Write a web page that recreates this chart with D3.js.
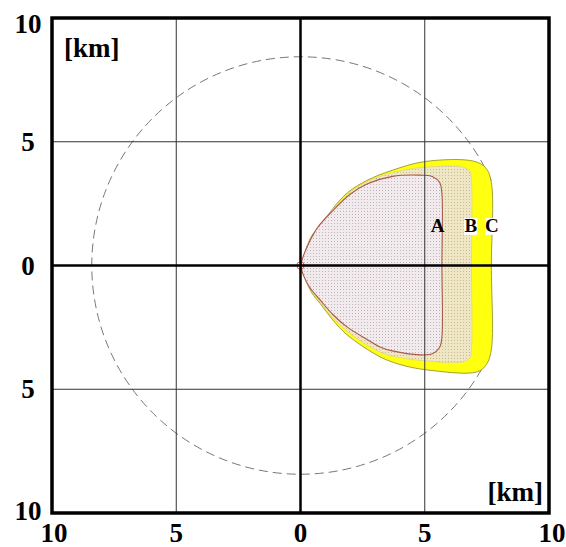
<!DOCTYPE html>
<html>
<head>
<meta charset="utf-8">
<script src="https://cdn.jsdelivr.net/npm/d3@7"></script>
<style>
  html, body { margin: 0; padding: 0; background: #fff; }
  svg { display: block; }
  .lbl { font-family: "Liberation Serif", "Times New Roman", serif; font-weight: bold; fill: #000; }
</style>
</head>
<body>
<svg id="chart" width="566" height="547"></svg>
<script>
// footprint zones A / B / C in km, y up, plotted on a ±10 km grid
const TICKS = [-10, -5, 0, 5, 10];
const TICK_LABELS = ["10", "5", "0", "5", "10"];
const RING_KM = 8.4;
// ring is hidden where it runs behind zone C: gap between these bearings (deg, from east, ccw)
const RING_GAP = [24, -30];
const ORIGIN_LOOP_KM = 0.15;

const ZONE_C = [[0,0],[0.15,0.45],[0.45,1.2],[0.8,1.6],[1.3,2.3],[1.9,2.95],[2.7,3.45],[3.7,3.85],[5.0,4.2],
  [6.95,4.22],[7.45,3.95],[7.68,3.35],[7.68,0],[7.68,-3.4],[7.48,-4.0],[7.1,-4.3],[5.1,-4.22],[4.0,-4.0],
  [3.2,-3.69],[1.87,-2.8],[1.3,-2.2],[0.8,-1.55],[0.45,-1.1],[0.15,-0.45],[0,0]];
const ZONE_B = [[0,0],[0.14,0.43],[0.42,1.1],[0.75,1.6],[1.3,2.27],[1.95,2.92],[2.7,3.4],[3.7,3.75],[5.0,3.97],
  [6.55,3.97],[6.82,3.8],[6.88,3.45],[6.88,0],[6.88,-3.4],[6.82,-3.72],[6.55,-3.89],[5.0,-3.85],[4.0,-3.72],
  [3.2,-3.5],[1.87,-2.65],[1.3,-2.1],[0.78,-1.47],[0.42,-1.0],[0.14,-0.43],[0,0]];
const ZONE_A = [[0,0],[0.12,0.4],[0.38,1.0],[0.7,1.55],[1.3,2.22],[2.0,2.88],[2.7,3.3],[3.7,3.6],[4.8,3.65],
  [5.3,3.6],[5.6,3.35],[5.69,2.9],[5.69,0],[5.69,-2.9],[5.6,-3.3],[5.3,-3.57],[4.8,-3.61],[3.7,-3.45],
  [3.2,-3.29],[2.7,-3.0],[1.87,-2.48],[1.3,-1.98],[0.79,-1.39],[0.38,-0.9],[0.12,-0.4],[0,0]];
const ZONE_LABELS = [
  { name: "A", x: 5.52, y: 1.6, box: false },
  { name: "B", x: 6.85, y: 1.6, box: true },
  { name: "C", x: 7.7,  y: 1.6, box: true }
];

const svg = d3.select("#chart");
const x = d3.scaleLinear().domain([-10, 10]).range([52, 549]);
const y = d3.scaleLinear().domain([-10, 10]).range([513, 18]);

const defs = svg.append("defs");
function dots(id, base, dot) {
  const p = defs.append("pattern").attr("id", id)
    .attr("patternUnits", "userSpaceOnUse").attr("width", 3).attr("height", 3);
  p.append("rect").attr("width", 3).attr("height", 3).attr("fill", base);
  p.append("rect").attr("x", 1).attr("y", 1).attr("width", 1).attr("height", 1).attr("fill", dot);
}
dots("dotA", "#f1ebed", "#c2b3ba");
dots("dotB", "#efe6c6", "#c8b98e");

// dashed range ring, open arc round the west side (screen angles: y down, so negate)
const ringR = x(RING_KM) - x(0);
const ring = d3.path();
const a0 = -RING_GAP[0] * Math.PI / 180;          // upper end
const a1 = -RING_GAP[1] * Math.PI / 180;          // lower end
ring.moveTo(x(0) + ringR * Math.cos(a0), y(0) + ringR * Math.sin(a0));
ring.arc(x(0), y(0), ringR, a0, a1, true);
svg.append("path").attr("d", ring.toString())
  .attr("fill", "none").attr("stroke", "#777").attr("stroke-width", 1)
  .attr("stroke-dasharray", "9,5");

const line = d3.line().x(d => x(d[0])).y(d => y(d[1])).curve(d3.curveCatmullRom.alpha(0.5));

svg.append("path").attr("d", line(ZONE_C) + "Z")
  .attr("fill", "#ffff10").attr("stroke", "#8a8a20").attr("stroke-width", 0.8);
svg.append("path").attr("d", line(ZONE_B) + "Z")
  .attr("fill", "url(#dotB)").attr("stroke", "#d8cc90").attr("stroke-width", 0.6);
svg.append("path").attr("d", line(ZONE_A) + "Z")
  .attr("fill", "url(#dotA)").attr("stroke", "#a85a48").attr("stroke-width", 1.1);

svg.append("circle")
  .attr("cx", x(0)).attr("cy", y(0)).attr("r", x(ORIGIN_LOOP_KM) - x(0))
  .attr("fill", "none").attr("stroke", "#c06060").attr("stroke-width", 1);

// grid at ±5
[-5, 5].forEach(v => {
  svg.append("line").attr("x1", x(v)).attr("x2", x(v)).attr("y1", y(-10)).attr("y2", y(10))
    .attr("stroke", "#333").attr("stroke-width", 1);
  svg.append("line").attr("x1", x(-10)).attr("x2", x(10)).attr("y1", y(v)).attr("y2", y(v))
    .attr("stroke", "#333").attr("stroke-width", 1);
});
// main axes through 0
svg.append("line").attr("x1", x(0)).attr("x2", x(0)).attr("y1", y(-10)).attr("y2", y(10))
  .attr("stroke", "#000").attr("stroke-width", 2.5);
svg.append("line").attr("x1", x(-10)).attr("x2", x(10)).attr("y1", y(0)).attr("y2", y(0))
  .attr("stroke", "#000").attr("stroke-width", 2.5);
// frame
svg.append("rect").attr("x", x(-10)).attr("y", y(10))
  .attr("width", x(10) - x(-10)).attr("height", y(-10) - y(10))
  .attr("fill", "none").attr("stroke", "#000").attr("stroke-width", 3.5);

// zone letters
ZONE_LABELS.forEach(l => {
  if (l.box) {
    svg.append("rect").attr("x", x(l.x) - 6.5).attr("y", y(l.y) - 8)
      .attr("width", 13).attr("height", 17).attr("fill", "#fff");
  }
  svg.append("text").attr("class", "lbl")
    .attr("font-family", "Liberation Serif")
    .attr("x", x(l.x)).attr("y", y(l.y) + 6.5)
    .attr("text-anchor", "middle").attr("font-size", 19)
    .text(l.name);
});

// tick labels
TICKS.forEach((v, i) => {
  const yy = Math.min(Math.max(y(v), 24), 511);
  svg.append("text").attr("class", "lbl")
    .attr("font-family", "Liberation Serif")
    .attr("x", 28).attr("y", yy + 9)
    .attr("text-anchor", "middle").attr("font-size", 27)
    .text(TICK_LABELS[TICKS.length - 1 - i]);
  svg.append("text").attr("class", "lbl")
    .attr("font-family", "Liberation Serif")
    .attr("x", x(v) + (i === 0 ? 2 : i === TICKS.length - 1 ? 3 : 0)).attr("y", 542)
    .attr("text-anchor", "middle").attr("font-size", 27)
    .text(TICK_LABELS[i]);
});

svg.append("text").attr("class", "lbl").attr("font-family", "Liberation Serif")
  .attr("x", 64).attr("y", 57)
  .attr("font-size", 27).text("[km]");
svg.append("text").attr("class", "lbl").attr("font-family", "Liberation Serif")
  .attr("x", 543).attr("y", 501)
  .attr("text-anchor", "end").attr("font-size", 27).text("[km]");
</script>
</body>
</html>
